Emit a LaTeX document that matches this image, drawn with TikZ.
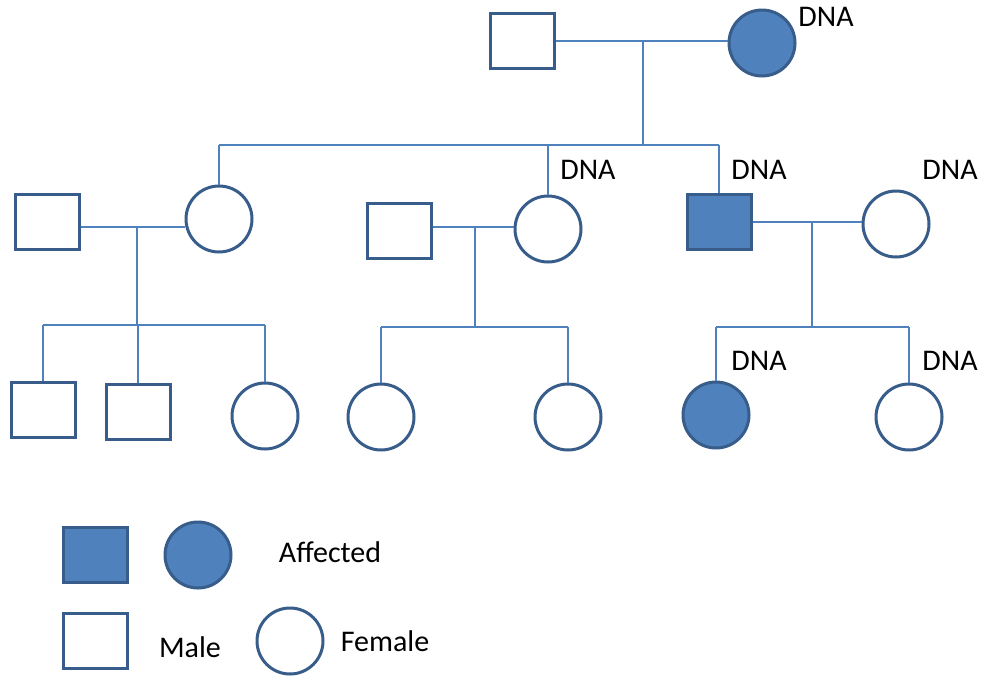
\documentclass[tikz,border=0pt]{standalone}
\usepackage{fontspec}
\setmainfont{Carlito}
\definecolor{pedfill}{RGB}{79,129,189}
\definecolor{pedline}{RGB}{56,93,138}
\tikzset{
	male/.style={draw=pedline, line width=3pt, fill=white, minimum width=64pt, minimum height=55pt, inner sep=0pt},
	female/.style={circle, draw=pedline, line width=3pt, fill=white, minimum size=66pt, inner sep=0pt},
	affected/.style={fill=pedfill},
	link/.style={draw=pedfill, line width=1.3pt},
	tag/.style={font=\fontsize{30}{36}\selectfont, inner sep=0pt}
}

\begin{document}
\begin{tikzpicture}[x=1pt,y=-1pt]
	% 982 x 678, y grows downwards
	\useasboundingbox (0,0) rectangle (982,678);

	% generation I
	\node[male] (gI1) at (522,41) {};
	\node[female,affected] (gI2) at (762,43) {};
	\node[tag] (dna1) at (826,17) {DNA};

	% generation II
	\node[male] (gII1) at (47,222) {};
	\node[female] (gII2) at (219,219) {};
	\node[male] (gII3) at (399,231) {};
	\node[female] (gII4) at (548,229) {};
	\node[male,affected] (gII5) at (719,222) {};
	\node[female] (gII6) at (896,224) {};
	\node[tag] (dna2) at (588,170) {DNA};
	\node[tag] (dna3) at (759,170) {DNA};
	\node[tag] (dna4) at (950,170) {DNA};

	% generation III
	\node[male] (gIII1) at (43,410) {};
	\node[male] (gIII2) at (138,412) {};
	\node[female] (gIII3) at (265,416) {};
	\node[female] (gIII4) at (381,417) {};
	\node[female] (gIII5) at (568,417) {};
	\node[female,affected] (gIII6) at (716,415) {};
	\node[female] (gIII7) at (909,417) {};
	\node[tag] (dna5) at (759,361) {DNA};
	\node[tag] (dna6) at (950,361) {DNA};

	% unions and sibships
	\coordinate (u1) at (643,41);
	\coordinate (s1) at (643,145);
	\draw[link] (gI1.east |- u1) -- (gI2.west |- u1);
	\draw[link] (u1) -- (s1);
	\draw[link] (gII2.north |- s1) -- (gII5.north |- s1);
	\draw[link] (gII2.north |- s1) -- (gII2.north);
	\draw[link] (gII4.north |- s1) -- (gII4.north);
	\draw[link] (gII5.north |- s1) -- (gII5.north);

	\coordinate (u2) at (137,227);
	\coordinate (s2) at (137,325);
	\draw[link] (gII1.east |- u2) -- (gII2.west |- u2);
	\draw[link] (u2) -- (s2);
	\draw[link] (gIII1.north |- s2) -- (gIII3.north |- s2);
	\draw[link] (gIII1.north |- s2) -- (gIII1.north);
	\draw[link] (gIII2.north |- s2) -- (gIII2.north);
	\draw[link] (gIII3.north |- s2) -- (gIII3.north);

	\coordinate (u3) at (475,227);
	\coordinate (s3) at (475,327);
	\draw[link] (gII3.east |- u3) -- (gII4.west |- u3);
	\draw[link] (u3) -- (s3);
	\draw[link] (gIII4.north |- s3) -- (gIII5.north |- s3);
	\draw[link] (gIII4.north |- s3) -- (gIII4.north);
	\draw[link] (gIII5.north |- s3) -- (gIII5.north);

	\coordinate (u4) at (812,222);
	\coordinate (s4) at (812,327);
	\draw[link] (gII5.east |- u4) -- (gII6.west |- u4);
	\draw[link] (u4) -- (s4);
	\draw[link] (gIII6.north |- s4) -- (gIII7.north |- s4);
	\draw[link] (gIII6.north |- s4) -- (gIII6.north);
	\draw[link] (gIII7.north |- s4) -- (gIII7.north);

	% legend
	\node[male,affected] (keyma) at (95,555) {};
	\node[female,affected] (keyfa) at (198,555) {};
	\node[tag] (keyaff) at (330,552) {Affected};
	\node[male] (keym) at (95,641) {};
	\node[tag] (keymale) at (190,647) {Male};
	\node[female] (keyf) at (290,641) {};
	\node[tag] (keyfemale) at (385,641) {Female};
\end{tikzpicture}
\end{document}
